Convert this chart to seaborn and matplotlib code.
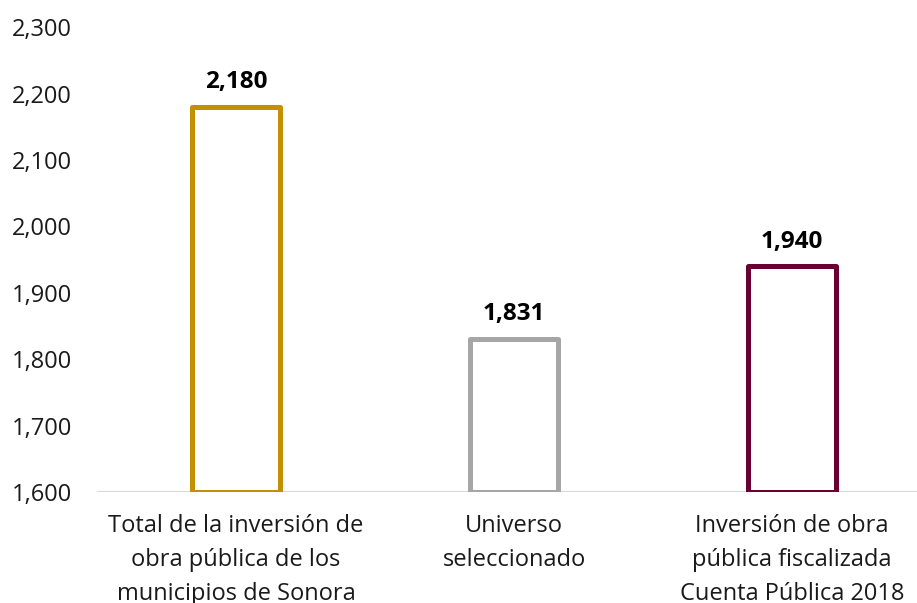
import pandas as pd
import seaborn as sns
import matplotlib.pyplot as plt

# Datos (millones de pesos)
categorias = [
    "Total de la inversión de\nobra pública de los\nmunicipios de Sonora",
    "Universo\nseleccionado",
    "Inversión de obra\npública fiscalizada\nCuenta Pública 2018",
]
valores = [2180, 1831, 1940]
colores = ["#C39100", "#A6A6A6", "#6B0033"]
ticks_y = [1600, 1700, 1800, 1900, 2000, 2100, 2200, 2300]

base = 1600

df = pd.DataFrame({"categoria": categorias, "valor": valores})

sns.set_style("white")
plt.rcParams["font.family"] = ["Open Sans", "DejaVu Sans"]

fig = plt.figure(figsize=(9.17, 6.03), dpi=100)
ax = fig.add_axes([0.1058, 0.184, 0.9095, 0.771])

sns.barplot(data=df, x="categoria", y="valor", hue="categoria",
            palette=colores, fill=False, width=0.317, linewidth=3.6,
            legend=False, ax=ax)

# Las barras arrancan en la base del eje (1,600)
for p in ax.patches:
    p.set_joinstyle("round")
    top = p.get_y() + p.get_height()
    p.set_y(base)
    p.set_height(top - base)

for cont in ax.containers:
    ax.bar_label(cont, labels=[f"{v:,.0f}" for v in cont.datavalues],
                 padding=9, fontsize=17.5, fontweight="bold", color="black")

ax.set_ylim(base, 2300)
ax.set_xlim(-0.5, 2.5)
ax.set_yticks(ticks_y)
ax.set_yticklabels([f"{t:,}" for t in ticks_y])
ax.axhline(base, color="#D9D9D9", lw=1.5, zorder=0)

sns.despine(ax=ax, left=True, bottom=True)
ax.tick_params(axis="y", length=0, pad=18, labelsize=17, labelcolor="#1a1a1a")
ax.tick_params(axis="x", length=0, pad=16, labelsize=17, labelcolor="#1a1a1a")
for lbl in ax.get_xticklabels():
    lbl.set_linespacing(1.55)
ax.set_xlabel("")
ax.set_ylabel("")

plt.savefig("out.png", dpi=100)
